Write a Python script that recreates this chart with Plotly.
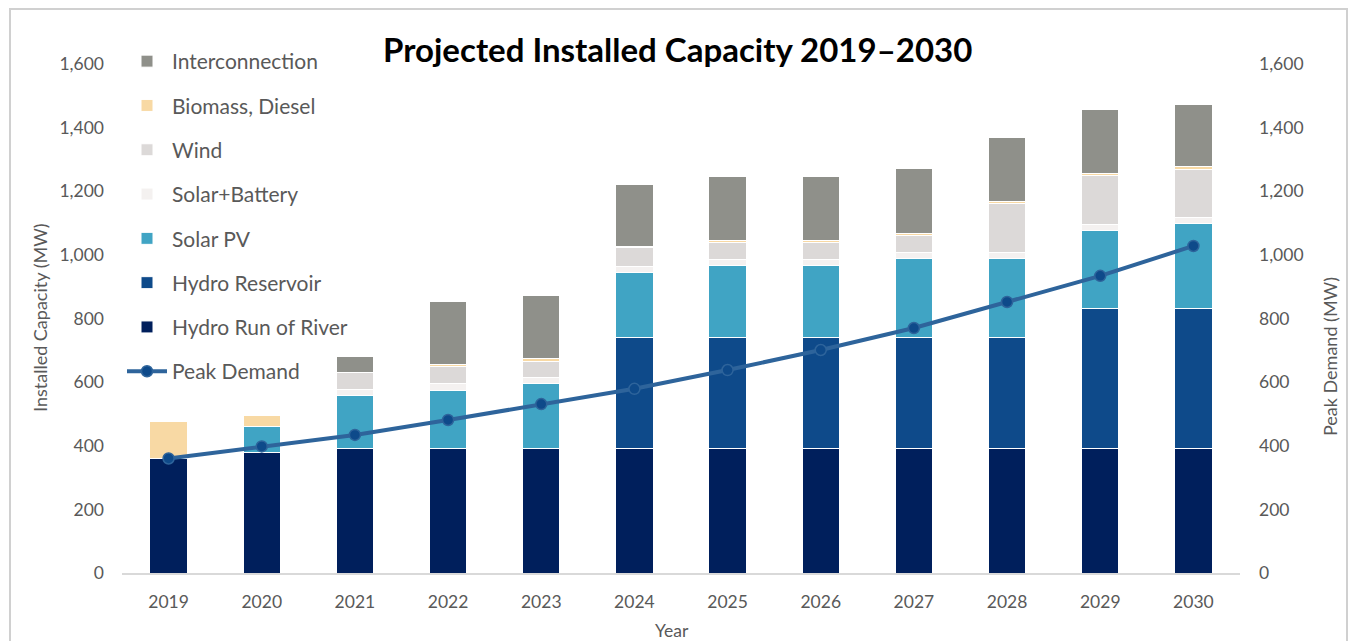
import plotly.graph_objects as go

years = ["2019", "2020", "2021", "2022", "2023", "2024", "2025", "2026", "2027", "2028", "2029", "2030"]
hydro_ror = [360, 380, 390, 390, 390, 390, 390, 390, 390, 390, 390, 390]
hydro_reservoir = [0, 0, 0, 0, 0, 350, 350, 350, 350, 350, 440, 440]
solar_pv = [0, 80, 168, 184, 205, 206, 228, 228, 248, 248, 248, 268]
solar_battery = [0, 0, 18, 21, 21, 19, 19, 19, 21, 21, 19, 21]
wind = [0, 0, 53, 54, 48, 57, 51, 51, 51, 151, 151, 148]
biomass_diesel = [115, 35, 0, 6, 9, 4, 8, 8, 7, 7, 9, 11]
interconnection = [0, 0, 50, 200, 200, 196, 200, 200, 203, 201, 200, 196]
peak_demand = [360, 398, 434, 481, 531, 579, 638, 701, 770, 852, 934, 1028]

FONT = "Lato"
TXT = "#595959"

fig = go.Figure()

bar_series = [
    ("Hydro Run of River", hydro_ror, "#001f5c", 7),
    ("Hydro Reservoir", hydro_reservoir, "#0e4a8a", 6),
    ("Solar PV", solar_pv, "#40a4c4", 5),
    ("Solar+Battery", solar_battery, "#f4f1f0", 4),
    ("Wind", wind, "#dcd9d8", 3),
    ("Biomass, Diesel", biomass_diesel, "#f8d9a4", 2),
    ("Interconnection", interconnection, "#8f908a", 1),
]
for name, vals, color, rank in bar_series:
    fig.add_trace(go.Bar(
        x=years, y=vals, name=name, legendrank=rank, legendgroup=name,
        marker=dict(color=color, line=dict(color="#ffffff", width=1)),
    ))

fig.add_trace(go.Scatter(
    x=years, y=peak_demand, name="Peak Demand", legendrank=8, legendgroup="pd",
    mode="lines+markers", yaxis="y2",
    line=dict(color="#2e649b", width=4),
    marker=dict(size=11, color="#0e4a8a", line=dict(color="#2e649b", width=1.5)),
))

L, R, T, B = 122, 110, 64, 68
W, H = 1350, 641
pw, ph = W - L - R, H - T - B

def px(xp):
    return (xp - L) / pw

def py(yp):
    return (H - B - yp) / ph

fig.update_layout(
    width=W, height=H,
    margin=dict(l=L, r=R, t=T, b=B),
    paper_bgcolor="white", plot_bgcolor="white",
    barmode="stack", bargap=0.6,
    font=dict(family=FONT, color=TXT, size=17),
    title=dict(text="<b>Projected Installed Capacity 2019–2030</b>",
               x=0.502, xanchor="center", y=1 - 50 / H, yanchor="middle",
               font=dict(family=FONT, size=33, color="#000000")),
    showlegend=True,
    legend=dict(x=px(122), y=py(41), xanchor="left", yanchor="top",
                traceorder="grouped", tracegroupgap=14, maxheight=600,
                font=dict(family=FONT, size=21, color=TXT),
                bgcolor="rgba(0,0,0,0)", itemwidth=40),
    xaxis=dict(range=[-0.5, 11.5], showgrid=False, showline=True,
               linecolor="#d9d9d9", linewidth=2, ticks="",
               tickfont=dict(size=17.5, color=TXT), ticklabelstandoff=12),
    yaxis=dict(range=[0, 1600], dtick=200, tickformat=",", showgrid=False,
               zeroline=False, showline=False, ticks="",
               tickfont=dict(size=17.5, color=TXT), ticklabelstandoff=17),
    yaxis2=dict(range=[0, 1600], dtick=200, tickformat=",", overlaying="y",
                side="right", showgrid=False, zeroline=False, showline=False,
                ticks="", tickfont=dict(size=17.5, color=TXT), ticklabelstandoff=18),
    annotations=[
        dict(text="Installed Capacity (MW)", x=px(40), y=py(318), xref="paper", yref="paper",
             textangle=-90, showarrow=False, font=dict(size=18, color=TXT),
             xanchor="center", yanchor="middle"),
        dict(text="Peak Demand (MW)", x=px(1330), y=py(357), xref="paper", yref="paper",
             textangle=-90, showarrow=False, font=dict(size=18, color=TXT),
             xanchor="center", yanchor="middle"),
        dict(text="Year", x=px(672), y=py(630), xref="paper", yref="paper",
             showarrow=False, font=dict(size=17.5, color=TXT),
             xanchor="center", yanchor="middle"),
    ],
    shapes=[
        dict(type="rect", xref="paper", yref="paper",
             x0=px(10), x1=px(1347), y0=py(660), y1=py(9),
             line=dict(color="#d0d0d0", width=2), fillcolor="rgba(0,0,0,0)", layer="below"),
    ],
)

fig.write_html("out.html", config={"displayModeBar": False},
               post_script="document.body.style.margin='0';document.body.style.overflow='hidden';")
